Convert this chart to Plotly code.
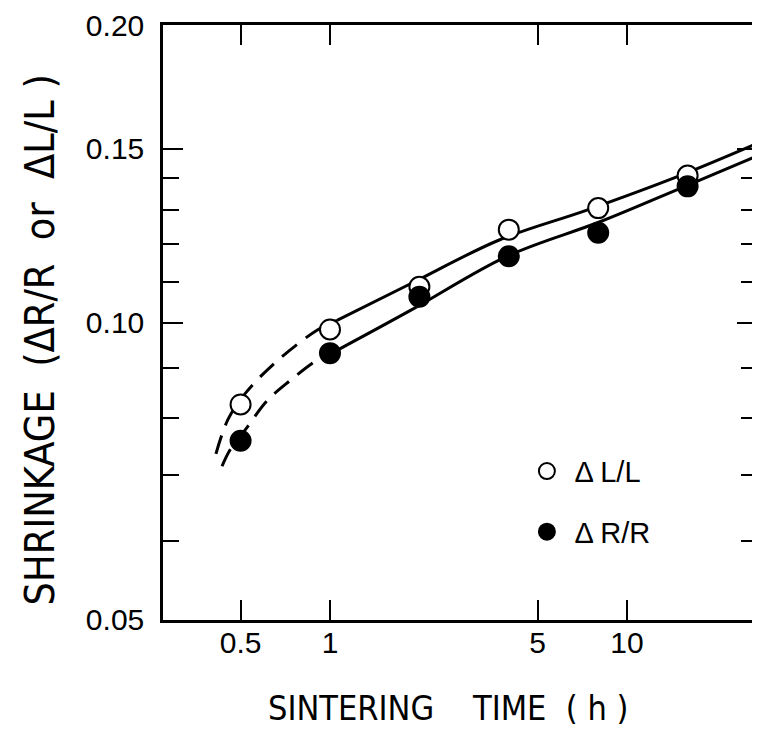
import numpy as np
import plotly.graph_objects as go

# measured points (sintering time h, shrinkage)
time_h = [0.5, 1, 2, 4, 8, 16]
dl_l = [0.0826, 0.0984, 0.1087, 0.1242, 0.1306, 0.1409]
dr_r = [0.0759, 0.0931, 0.1062, 0.1167, 0.1233, 0.1374]

# fitted curves (dashed part = extrapolation)
fit_l_dash_x = [0.413, 0.454, 0.521, 0.663, 0.904, 1.056]
fit_l_dash_y = [0.0736, 0.0798, 0.0849, 0.0914, 0.0982, 0.1005]
fit_l_x = [1.056, 1.86, 3.73, 7.33, 15.08, 27.6]
fit_l_y = [0.1005, 0.1094, 0.1213, 0.1300, 0.1409, 0.1520]

fit_r_dash_x = [0.433, 0.461, 0.526, 0.614, 0.733, 0.904, 1.056]
fit_r_dash_y = [0.0715, 0.0743, 0.0783, 0.0833, 0.0873, 0.0916, 0.0937]
fit_r_x = [1.056, 1.86, 3.94, 8.11, 15.4, 27.6]
fit_r_y = [0.0937, 0.1028, 0.1167, 0.1265, 0.1371, 0.1476]

x_ticks = [0.5, 1, 5, 10]
x_ticktext = ["0.5", "1", "5", "10"]
y_ticks = [0.05, 0.10, 0.15, 0.20]
y_ticktext = ["0.05", "0.10", "0.15", "0.20"]
y_minor = [0.06, 0.07, 0.08, 0.09, 0.11, 0.12, 0.13, 0.14]

TICK_FONT = "Liberation Sans, Arial, sans-serif"
TITLE_FONT = "DejaVu Sans Condensed, DejaVu Sans, sans-serif"
NB = "\u00a0"
x_title = "SINTERING" + NB * 4 + "TIME" + NB * 2 + "(" + NB + "h" + NB + ")"
y_title = "SHRINKAGE" + NB * 2 + "(\u0394R/R" + NB * 2 + "or" + NB * 2 + "\u0394L/L" + NB + ")"

fig = go.Figure()

for xs, ys, dash in [(fit_l_dash_x, fit_l_dash_y, "19px,11px"), (fit_l_x, fit_l_y, "solid"),
                     (fit_r_dash_x, fit_r_dash_y, "19px,11px"), (fit_r_x, fit_r_y, "solid")]:
    fig.add_trace(go.Scatter(x=xs, y=ys, mode="lines", line=dict(color="black", width=3, dash=dash, shape="spline"),
                             showlegend=False, hoverinfo="skip"))

fig.add_trace(go.Scatter(x=time_h, y=dl_l, mode="markers", name="\u0394 L/L", legendgroup="a",
                         marker=dict(symbol="circle", size=20, color="white", line=dict(color="black", width=2))))
fig.add_trace(go.Scatter(x=time_h, y=dr_r, mode="markers", name="\u0394 R/R", legendgroup="b",
                         marker=dict(symbol="circle", size=20, color="black", line=dict(color="black", width=2))))

fig.update_xaxes(type="log", range=[np.log10(0.274), np.log10(27.4)], automargin=False,
                 tickvals=x_ticks, ticktext=x_ticktext, ticks="inside", ticklen=20, tickwidth=2,
                 tickcolor="black", showline=True, linecolor="black", linewidth=2.5, mirror="ticks",
                 showgrid=False, zeroline=False, ticklabelstandoff=-6,
                 tickfont=dict(size=30, family=TICK_FONT, color="black"))
fig.update_yaxes(type="log", range=[np.log10(0.05) - 0.0005, np.log10(0.2) + 0.0005], automargin=False,
                 tickvals=y_ticks, ticktext=y_ticktext, ticks="inside", ticklen=20, tickwidth=2,
                 tickcolor="black", showline=True, linecolor="black", linewidth=2.5, mirror="ticks",
                 minor=dict(tickvals=y_minor, ticks="inside", ticklen=16, tickwidth=2, tickcolor="black"),
                 showgrid=False, zeroline=False, ticklabelstandoff=10, ticklabeloverflow="allow",
                 tickfont=dict(size=30, family=TICK_FONT, color="black"))

# axis titles as annotations so they sit where the original has them
fig.add_annotation(text=x_title, xref="paper", yref="paper", x=0.48, y=-0.148, xanchor="center", yanchor="middle",
                   showarrow=False, font=dict(size=34, family=TITLE_FONT, color="black"))
fig.add_annotation(text=y_title, xref="paper", yref="paper", x=-0.207, y=0.47, xanchor="center", yanchor="middle",
                   textangle=-90, showarrow=False, font=dict(size=41, family=TITLE_FONT, color="black"))

# page body adds an 8px offset, so the figure is 8px smaller and margins shifted
fig.update_layout(width=752, height=729, margin=dict(l=155, r=3, t=17, b=117),
                  paper_bgcolor="white", plot_bgcolor="white",
                  legend=dict(x=0.60, y=0.293, xanchor="left", yanchor="top", bgcolor="rgba(0,0,0,0)",
                              font=dict(size=29, family=TICK_FONT, color="black"), tracegroupgap=20,
                              traceorder="grouped", itemwidth=45))

fig.write_html("out.html")
